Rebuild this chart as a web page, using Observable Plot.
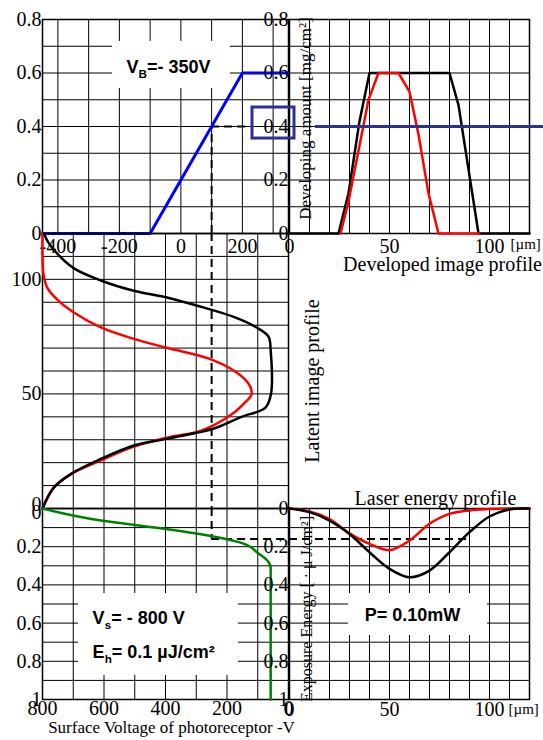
<!DOCTYPE html>
<html><head><meta charset="utf-8">
<script src="https://cdn.jsdelivr.net/npm/d3@7"></script>
<script src="https://cdn.jsdelivr.net/npm/@observablehq/plot@0.6"></script>
<style>
body{margin:0;background:#fff}
#chart{position:relative;width:543px;height:740px;overflow:hidden}
</style>
</head><body><div id="chart"></div>
<script>
// ================= DATA =================
// Development characteristic (top-left): development potential [V] -> developing amount [mg/cm2]
const devPotential = [-450, -100, 200, 350];
const devAmount    = [0, 0, 0.6, 0.6];

// Developed image profile (top-right): position [µm] -> developing amount [mg/cm2]
const devPosBlack = [0, 24.5, 29.5, 35, 40, 80, 84.5, 94.5, 120];
const devAmtBlack = [0, 0, 0.15, 0.42, 0.6, 0.6, 0.48, 0, 0];
const devPosRed   = [25.5, 29.5, 39.5, 44.5, 54.5, 60, 64.5, 69.5, 74.5, 95];
const devAmtRed   = [0, 0.12, 0.5, 0.6, 0.6, 0.53, 0.37, 0.15, 0, 0];

// Latent image profile (middle-left): position [µm] -> surface voltage [-V]
const latPosBlack = [0, 9, 15, 21, 27.5, 30.5, 35, 40, 44, 50, 69, 75, 79, 83.5, 88, 92, 95, 99.5, 105, 113, 117, 120];
const latVBlack   = [800, 764, 708, 620, 503, 392, 240, 153, 75, 57, 58, 65, 104, 176, 284, 392, 503, 610, 700, 764, 785, 795];
const latPosRed   = [0, 9, 15, 21, 27, 31, 34, 40, 46, 50, 54.5, 60, 65.5, 70, 74, 79, 85.5, 91, 96.5, 102.5, 110, 120];
const latVRed     = [800, 764, 708, 610, 503, 392, 284, 196, 143, 120, 130, 176, 261, 392, 503, 610, 698, 751, 785, 797, 800, 800];

// Photo-induced discharge curve (bottom-left): exposure energy [µJ/cm2] -> surface voltage [-V]
const pidcE = [0, 0.063, 0.106, 0.15, 0.18, 0.235, 0.28, 0.31, 1];
const pidcV = [800, 610, 405, 232, 153, 98, 65, 58, 58];

// Laser energy profile (bottom-right): position [µm] -> exposure energy [µJ/cm2]
const laserPos   = [0, 10, 20, 30, 40, 50, 60, 70, 80, 90, 100, 110, 120];
const laserBlack = [0, 0.019, 0.063, 0.133, 0.229, 0.316, 0.36, 0.325, 0.229, 0.124, 0.042, 0.005, 0];
const laserRed   = [0, 0.015, 0.055, 0.13, 0.185, 0.218, 0.168, 0.08, 0.028, 0.01, 0.003, 0, 0];

// Operating point (dashed construction lines)
const opPotential = 100, opVoltage = 250, opAmount = 0.4, opExposure = 0.16, opPos = 89;

// Tick labels
const devXTicks  = [-400, -200, 0, 200];
const devYTicks  = [0, 0.2, 0.4, 0.6, 0.8];
const posTicks   = [0, 50, 100];
const latTicks   = [50, 100];
const voltTicks  = [800, 600, 400, 200, 0];
const expTicks   = [0.2, 0.4, 0.6, 0.8, 1];

// Texts
const biasLabel   = "V_{B}=- 350V";
const vsLabel     = "V_{s}= - 800 V";
const ehLabel     = "E_{h}= 0.1 \u00b5J/cm\u00b2";
const powerLabel  = "P= 0.10mW";

// ================= DRAWING =================
const W = 543, H = 740;
const serif = "'Liberation Serif','Times New Roman',serif";
const sans = "'Liberation Sans',Arial,sans-serif";
const navy = "#2e3192";
const tbl = (xs, ys) => xs.map((x, i) => ({x, y: ys[i]}));
const gridStyle = {stroke: "#000", strokeOpacity: 1, strokeWidth: 1};
const dash = {stroke: "#000", strokeWidth: 2, strokeDasharray: "8,5"};
const fmt = d => String(d);

function panel({left, right, top, bottom, x, y, marks}) {
  const svg = Plot.plot({
    width: W, height: H,
    marginLeft: left, marginRight: W - right, marginTop: top, marginBottom: H - bottom,
    x: {...x, axis: null}, y: {...y, axis: null},
    style: {background: "transparent", overflow: "visible", position: "absolute", left: "0px", top: "0px",
            fontFamily: serif, fontSize: "20px", color: "#000"},
    marks
  });
  // sub-script markup
  svg.querySelectorAll("text").forEach(t => {
    const s = t.textContent;
    if (!/_\{/.test(s) || t.children.length) return;
    t.textContent = "";
    let shift = 0;
    for (const p of s.split(/(_\{[^}]*\})/)) {
      if (!p) continue;
      const ts = document.createElementNS("http://www.w3.org/2000/svg", "tspan");
      if (p.startsWith("_{")) {
        ts.textContent = p.slice(2, -1);
        ts.setAttribute("font-size", "65%");
        ts.setAttribute("dy", "5");
        shift = 5;
      } else {
        ts.textContent = p;
        if (shift) { ts.setAttribute("dy", String(-shift)); shift = 0; }
      }
      t.appendChild(ts);
    }
  });
  return svg;
}

const chart = document.getElementById("chart");
const L1 = 42, R1 = 288, L2 = 289, R2 = 529, T1 = 19, B1 = 233, B2 = 508, B3 = 699;

// ---- Top-left: development characteristic ----
chart.append(panel({
  left: L1, right: R1, top: T1, bottom: B1,
  x: {domain: [-450, 350]}, y: {domain: [0, 0.8]},
  marks: [
    Plot.gridX(d3.range(-400, 301, 100), gridStyle),
    Plot.gridY(d3.range(1, 8).map(i => i / 10), gridStyle),
    Plot.rect([0], {x1: -222, x2: 161, y1: 0.542, y2: 0.718, fill: "#fff"}),
    Plot.text([biasLabel], {x: -40, y: 0.62, fontFamily: sans, fontWeight: "bold", fontSize: 18}),
    Plot.ruleX([opPotential], {y1: 0, y2: opAmount, ...dash}),
    Plot.ruleY([opAmount], {x1: opPotential, x2: 226, ...dash}),
    Plot.frame({stroke: "#000", strokeWidth: 1.5}),
    Plot.line(tbl(devPotential, devAmount), {x: "x", y: "y", stroke: "#0000ff", strokeWidth: 3}),
    Plot.axisX(devXTicks, {anchor: "bottom", tickSize: 0, tickPadding: 5, tickFormat: fmt, label: null}),
    Plot.axisY(devYTicks, {anchor: "left", tickSize: 0, tickPadding: 1, tickFormat: fmt, label: null})
  ]
}));

// ---- Middle-left: latent image profile ----
chart.append(panel({
  left: L1, right: R1, top: B1, bottom: B2,
  x: {domain: [800, 0]}, y: {domain: [0, 120]},
  marks: [
    Plot.gridX(d3.range(100, 701, 100), gridStyle),
    Plot.gridY(d3.range(10, 111, 10), gridStyle),
    Plot.ruleX([opVoltage], dash),
    Plot.frame({stroke: "#000", strokeWidth: 1.5}),
    Plot.line(tbl(latVRed, latPosRed), {x: "x", y: "y", stroke: "#ff0000", strokeWidth: 2.5, curve: "catmull-rom"}),
    Plot.line(tbl(latVBlack, latPosBlack), {x: "x", y: "y", stroke: "#000", strokeWidth: 2.5, curve: "catmull-rom"}),
    Plot.axisY(latTicks, {anchor: "left", tickSize: 0, tickPadding: 1, tickFormat: fmt, label: null}),
    Plot.axisY([0], {anchor: "left", tickSize: 0, tickPadding: 1, tickFormat: fmt, label: null, dy: -4}),
    Plot.text(["Latent image profile"], {frameAnchor: "right", textAnchor: "middle", rotate: -90, dx: 24, dy: 10, fontSize: 20})
  ]
}));

// ---- Bottom-left: PIDC ----
chart.append(panel({
  left: L1, right: R1, top: B2, bottom: B3,
  x: {domain: [800, 0]}, y: {domain: [0, 1], reverse: true},
  marks: [
    Plot.gridX(d3.range(100, 701, 100), gridStyle),
    Plot.gridY(d3.range(1, 10).map(i => i / 10), gridStyle),
    Plot.rect([0], {x1: 683, x2: 163, y1: 0.445, y2: 0.874, fill: "#fff"}),
    Plot.text([vsLabel], {x: 637, y: 0.575, textAnchor: "start", fontFamily: sans, fontWeight: "bold", fontSize: 18}),
    Plot.text([ehLabel], {x: 637, y: 0.755, textAnchor: "start", fontFamily: sans, fontWeight: "bold", fontSize: 18}),
    Plot.ruleX([opVoltage], {y1: 0, y2: opExposure, ...dash}),
    Plot.ruleY([opExposure], {x1: opVoltage, x2: 0, ...dash}),
    Plot.frame({stroke: "#000", strokeWidth: 1.5}),
    Plot.line(tbl(pidcV, pidcE), {x: "x", y: "y", stroke: "#008000", strokeWidth: 2.5, curve: "monotone-y"}),
    Plot.axisX(voltTicks, {anchor: "bottom", tickSize: 0, tickPadding: 1, tickFormat: fmt, label: null}),
    Plot.axisY(expTicks, {anchor: "left", tickSize: 0, tickPadding: 1, tickFormat: fmt, label: null}),
    Plot.axisY([0], {anchor: "left", tickSize: 0, tickPadding: 1, tickFormat: fmt, label: null, dy: 4}),
    Plot.text(["Surface Voltage of photoreceptor -V"], {frameAnchor: "bottom", dx: 6, dy: 33, fontSize: 17})
  ]
}));

// ---- Top-right: developed image profile ----
chart.append(panel({
  left: L2, right: R2, top: T1, bottom: B1,
  x: {domain: [0, 120]}, y: {domain: [0, 0.8]},
  marks: [
    Plot.gridX(d3.range(10, 111, 10), gridStyle),
    Plot.gridY(d3.range(1, 8).map(i => i / 10), gridStyle),
    Plot.frame({stroke: "#000", strokeWidth: 1.5}),
    Plot.line(tbl(devPosBlack, devAmtBlack), {x: "x", y: "y", stroke: "#000", strokeWidth: 2.5}),
    Plot.line(tbl(devPosRed, devAmtRed), {x: "x", y: "y", stroke: "#ff0000", strokeWidth: 2.5}),
    Plot.ruleY([opAmount], {x1: 13, x2: 127, stroke: navy, strokeWidth: 3}),
    Plot.rect([0], {x1: -18.5, x2: 2.5, y1: 0.355, y2: 0.471, fill: "none", stroke: navy, strokeWidth: 3}),
    Plot.axisX(posTicks, {anchor: "bottom", tickSize: 0, tickPadding: 5, tickFormat: fmt, label: null}),
    Plot.axisY(devYTicks, {anchor: "left", tickSize: 0, tickPadding: 1, tickFormat: fmt, label: null}),
    Plot.text(["[\u00b5m]"], {frameAnchor: "bottom-right", textAnchor: "start", dx: -19, dy: 15, fontSize: 15}),
    Plot.text(["Developing amount [mg/cm\u00b2]"], {frameAnchor: "left", textAnchor: "middle", rotate: -90, dx: 16, dy: -8, fontSize: 17}),
    Plot.text(["Developed image profile"], {frameAnchor: "bottom", dx: 33, dy: 37, fontSize: 20})
  ]
}));

// ---- Bottom-right: laser energy profile ----
chart.append(panel({
  left: L2, right: R2, top: B2, bottom: B3,
  x: {domain: [0, 120]}, y: {domain: [0, 1], reverse: true},
  marks: [
    Plot.gridX(d3.range(10, 111, 10), gridStyle),
    Plot.gridY(d3.range(1, 10).map(i => i / 10), gridStyle),
    Plot.rect([0], {x1: 29.5, x2: 99, y1: 0.445, y2: 0.665, fill: "#fff"}),
    Plot.text([powerLabel], {x: 61.5, y: 0.56, fontFamily: sans, fontWeight: "bold", fontSize: 18}),
    Plot.ruleY([opExposure], {x1: 0, x2: opPos, ...dash}),
    Plot.frame({stroke: "#000", strokeWidth: 1.5}),
    Plot.line(tbl(laserPos, laserRed), {x: "x", y: "y", stroke: "#ff0000", strokeWidth: 2.5, curve: "catmull-rom"}),
    Plot.line(tbl(laserPos, laserBlack), {x: "x", y: "y", stroke: "#000", strokeWidth: 2.5, curve: "catmull-rom"}),
    Plot.axisX(posTicks, {anchor: "bottom", tickSize: 0, tickPadding: 2, tickFormat: fmt, label: null}),
    Plot.axisY([0, ...expTicks], {anchor: "left", tickSize: 0, tickPadding: 1, tickFormat: fmt, label: null}),
    Plot.text(["[\u00b5m]"], {frameAnchor: "bottom-right", textAnchor: "start", dx: -21, dy: 14, fontSize: 15}),
    Plot.text(["Exposure Energy [ \u00b7 \u03bc J/cm\u00b2]"], {frameAnchor: "left", textAnchor: "middle", rotate: -90, dx: 17, dy: 5, fontSize: 16}),
    Plot.text(["Laser energy profile"], {frameAnchor: "top", dx: 26, dy: -18, fontSize: 20})
  ]
}));
</script>
</body></html>
